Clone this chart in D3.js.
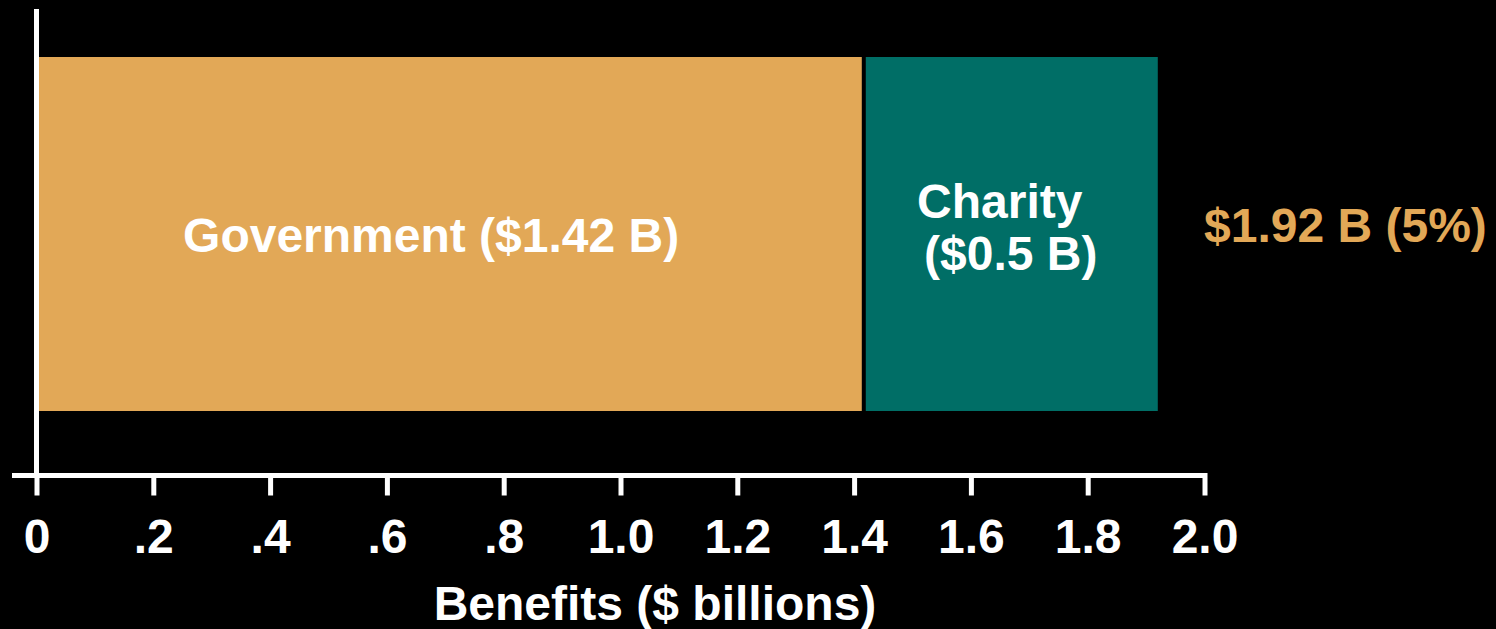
<!DOCTYPE html>
<html>
<head>
<meta charset="utf-8">
<script src="https://cdn.jsdelivr.net/npm/d3@7"></script>
<style>
  body { margin: 0; background: #000; }
  text { font-family: "Liberation Sans", Arial, sans-serif; font-weight: bold; }
</style>
</head>
<body>
<script>
// data
var categories = ["Government", "Charity"];
var values = [1.42, 0.5];
var barLabels = [["Government ($1.42 B)"], ["Charity", "($0.5 B)"]];
var totalLabel = "$1.92 B (5%)";
var tickValues = [0, 0.2, 0.4, 0.6, 0.8, 1.0, 1.2, 1.4, 1.6, 1.8, 2.0];
var tickLabels = ["0", ".2", ".4", ".6", ".8", "1.0", "1.2", "1.4", "1.6", "1.8", "2.0"];
var axisTitle = "Benefits ($ billions)";

var svgWidth = 1496;
var svgHeight = 629;
var fontSize = "48px";

var colors = { Government: "#e2a857", Charity: "#006e66" };

var svg = d3.select("body")
    .append("svg")
    .attr("width", svgWidth)
    .attr("height", svgHeight);

// scales
var x = d3.scaleLinear()
    .domain([0, 2])
    .range([36.5, 1204.5]);

var y = d3.scaleBand()
    .domain(["total"])
    .range([57, 411]);

// stack the segments
var segs = [];
var run = 0;
categories.forEach(function(c, i) {
    segs.push({ name: c, start: run, end: run + values[i], lines: barLabels[i] });
    run += values[i];
});

var gap = 4;

svg.selectAll("rect.seg")
    .data(segs)
    .enter()
    .append("rect")
    .attr("class", "seg")
    .attr("x", d => x(d.start))
    .attr("y", y("total"))
    .attr("width", (d, i) => x(d.end) - x(d.start) - (i < segs.length - 1 ? gap : 0))
    .attr("height", y.bandwidth())
    .attr("fill", d => colors[d.name]);

// bar labels
var labelShift = [-20, -8];
var labelDrop = [18, 10];
segs.forEach(function(d, i) {
    var cx = (x(d.start) + x(d.end)) / 2 + labelShift[i];
    var t = svg.append("text")
        .attr("text-anchor", "middle")
        .attr("fill", "#fff")
        .style("font-size", fontSize);
    var n = d.lines.length;
    d.lines.forEach(function(line, j) {
        t.append("tspan")
            .attr("x", cx + (n > 1 ? j * 11 - 4 : 0))
            .attr("y", y("total") + y.bandwidth() / 2 + labelDrop[i] + (j - (n - 1) / 2) * 52)
            .text(line);
    });
});

// total label
svg.append("text")
    .attr("x", x(2) - 0.5)
    .attr("y", 242)
    .attr("fill", "#e2a857")
    .style("font-size", fontSize)
    .text(totalLabel);

// x axis
var bottomaxis = d3.axisBottom(x)
    .tickValues(tickValues)
    .tickFormat((d, i) => tickLabels[i])
    .tickSize(20)
    .tickSizeOuter(0)
    .tickPadding(23);

var xg = svg.append("g")
    .attr("transform", "translate(0, 475.5)")
    .call(bottomaxis);

xg.select(".domain").remove();
xg.selectAll(".tick line")
    .attr("stroke", "#fff")
    .attr("stroke-width", 5)
    .attr("y1", -2.5);
xg.selectAll(".tick text")
    .attr("fill", "#fff")
    .style("font-size", fontSize)
    .style("font-family", "'Liberation Sans', Arial, sans-serif")
    .style("font-weight", "bold");

svg.append("line")
    .attr("x1", 12)
    .attr("x2", x(2) + 2.5)
    .attr("y1", 475.5)
    .attr("y2", 475.5)
    .attr("stroke", "#fff")
    .attr("stroke-width", 5);

// y axis line
svg.append("line")
    .attr("x1", x(0))
    .attr("x2", x(0))
    .attr("y1", 9)
    .attr("y2", 478)
    .attr("stroke", "#fff")
    .attr("stroke-width", 5);

// axis title
svg.append("text")
    .attr("x", 655)
    .attr("y", 620)
    .attr("text-anchor", "middle")
    .attr("fill", "#fff")
    .style("font-size", fontSize)
    .text(axisTitle);
</script>
</body>
</html>
